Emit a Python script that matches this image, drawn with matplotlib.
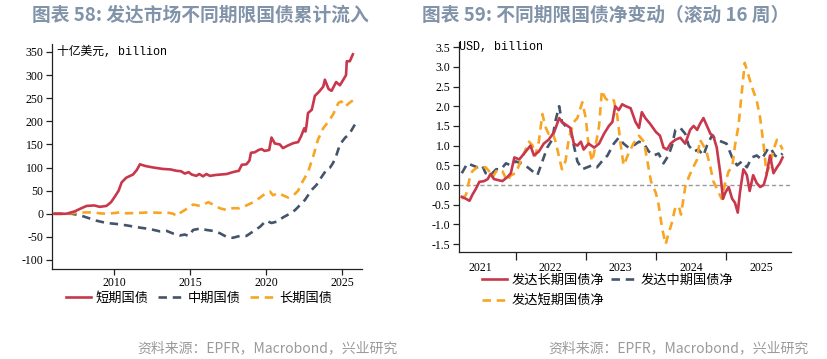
import matplotlib
matplotlib.use("Agg")
import matplotlib.pyplot as plt
from matplotlib.ticker import FixedLocator, NullFormatter, FixedFormatter
from matplotlib.lines import Line2D

CJK = ['Noto Sans CJK SC', 'DejaVu Sans']
SERIF = ['Liberation Serif', 'DejaVu Serif']
MONO = ['Liberation Mono', 'Noto Sans CJK SC']

RED = '#c8374b'
NAVY = '#44546a'
ORANGE = '#f7a523'
TITLE_C = '#8193a9'

# ---------------- Left chart data (cumulative, billion USD) ----------------
short_x = [2006.05, 2006.86, 2007.4, 2007.85, 2008.2, 2008.7, 2009.06, 2009.5, 2009.8, 2010.05,
           2010.3, 2010.5, 2010.8, 2011.25, 2011.5, 2011.7, 2012.1, 2012.6, 2013.2, 2013.7,
           2014.1, 2014.4, 2014.65, 2014.9, 2015.1, 2015.4, 2015.6, 2015.85, 2016.07, 2016.3,
           2016.7, 2017.4, 2017.8, 2018.2, 2018.4, 2018.7, 2018.9, 2019.0, 2019.25, 2019.5,
           2019.7, 2019.9, 2020.2, 2020.35, 2020.57, 2020.9, 2021.1, 2021.45, 2021.8, 2022.1,
           2022.3, 2022.5, 2022.58, 2022.65, 2022.75, 2023.0, 2023.2, 2023.5, 2023.75, 2023.86,
           2024.1, 2024.3, 2024.6, 2024.85, 2025.07, 2025.25, 2025.3, 2025.5, 2025.7]
short_v = [0, 0, 5, 12, 17, 18, 15, 17, 25, 37,
           50, 68, 78, 85, 95, 107, 103, 100, 97, 96,
           93, 92, 87, 90, 85, 82, 86, 81, 86, 82,
           84, 86, 90, 93, 106, 107, 115, 132, 133, 138,
           140, 136, 138, 165, 152, 150, 142, 148, 153, 155,
           168, 185, 178, 190, 218, 225, 255, 265, 275, 290,
           270, 266, 285, 278, 290, 300, 330, 330, 345]

mid_x = [2006.05, 2007.2, 2007.75, 2008.2, 2008.85, 2009.5, 2010.15, 2010.8, 2011.7, 2012.35,
         2013.0, 2013.45, 2013.9, 2014.3, 2014.65, 2014.9, 2015.2, 2015.65, 2016.07, 2016.5,
         2016.95, 2017.4, 2017.8, 2018.27, 2018.7, 2019.15, 2019.6, 2020.0, 2020.35, 2020.7,
         2021.1, 2021.55, 2021.9, 2022.2, 2022.55, 2023.0, 2023.3, 2023.65, 2024.0, 2024.2,
         2024.4, 2024.6, 2024.85, 2025.2, 2025.4, 2025.6, 2025.83]
mid_v = [0, 0, -3, -8, -15, -20, -22, -25, -30, -33,
         -38, -37, -43, -47, -45, -48, -35, -32, -35, -37,
         -42, -50, -52, -48, -48, -38, -28, -15, -20, -17,
         -8, 0, 8, 18, 30, 52, 62, 80, 97, 100,
         110, 125, 150, 165, 170, 180, 193]

long_x = [2006.05, 2006.86, 2007.5, 2008.2, 2008.6, 2009.05, 2009.5, 2010.15, 2010.5, 2010.8,
          2011.7, 2012.35, 2013.0, 2013.45, 2013.9, 2014.1, 2014.4, 2014.75, 2015.2, 2015.65,
          2016.2, 2016.5, 2016.95, 2017.4, 2017.8, 2018.25, 2018.7, 2019.15, 2019.6, 2020.0,
          2020.25, 2020.45, 2020.8, 2021.1, 2021.45, 2021.8, 2022.1, 2022.4, 2022.75, 2023.1,
          2023.4, 2023.75, 2024.1, 2024.4, 2024.75, 2024.95, 2025.2, 2025.4, 2025.6, 2025.83]
long_v = [0, 0, 2, 3, 3, 1, 0, 2, 4, 1,
          2, 3, 2, 3, 0, -5, 3, 10, 20, 17,
          25, 20, 12, 8, 12, 12, 18, 25, 35, 45,
          48, 40, 45, 40, 35, 40, 50, 70, 90, 125,
          160, 185, 200, 215, 240, 243, 232, 238, 243, 248]

left_yticks = [350, 300, 250, 200, 150, 100, 50, 0, -50, -100]
left_xticks = [2010, 2015, 2020, 2025]
left_labels = ['短期国债', '中期国债', '长期国债']

# ---------------- Right chart data (rolling 16w net change, billion USD) ----------------
r_long_x = [2021.23, 2021.29, 2021.34, 2021.38, 2021.43, 2021.48, 2021.55, 2021.6, 2021.64, 2021.69,
            2021.76, 2021.81, 2021.88, 2021.93, 2021.98, 2022.05, 2022.12, 2022.21, 2022.26, 2022.33,
            2022.4, 2022.47, 2022.55, 2022.62, 2022.66, 2022.74, 2022.78, 2022.83, 2022.88, 2022.93,
            2022.97, 2023.04, 2023.12, 2023.19, 2023.26, 2023.33, 2023.38, 2023.42, 2023.47, 2023.52,
            2023.57, 2023.64, 2023.71, 2023.76, 2023.8, 2023.85, 2023.92, 2024.0, 2024.06, 2024.11,
            2024.16, 2024.21, 2024.28, 2024.35, 2024.42, 2024.49, 2024.54, 2024.59, 2024.63, 2024.68,
            2024.73, 2024.78, 2024.82, 2024.87, 2024.92, 2024.96, 2024.99, 2025.04, 2025.09, 2025.13,
            2025.17, 2025.2, 2025.25, 2025.3, 2025.34, 2025.39, 2025.44, 2025.49, 2025.54, 2025.58,
            2025.63, 2025.68, 2025.73, 2025.77, 2025.81]
r_long_v = [-0.3, -0.35, -0.4, -0.25, -0.1, 0.08, 0.1, 0.15, 0.28, 0.15,
            0.12, 0.1, 0.2, 0.3, 0.7, 0.65, 0.8, 1.0, 0.75, 0.85,
            1.05, 1.15, 1.35, 1.7, 1.6, 1.5, 1.45, 1.05, 1.0, 1.1,
            0.9, 1.05, 0.95, 1.05, 1.3, 1.5, 1.6, 2.0, 1.9, 2.05,
            2.0, 1.95, 1.6, 1.45, 1.85, 1.7, 1.55, 1.35, 1.25, 0.95,
            0.9, 1.05, 1.15, 1.2, 1.05, 1.4, 1.5, 1.4, 1.55, 1.7,
            1.5, 1.3, 1.25, 0.95, 0.3, -0.35, -0.2, -0.05, -0.35, -0.45,
            -0.7, -0.2, 0.4, 0.25, -0.15, 0.25, 0.05, -0.05, 0.0, 0.25,
            0.75, 0.3, 0.45, 0.55, 0.7]

r_mid_x = [2021.23, 2021.31, 2021.38, 2021.45, 2021.52, 2021.57, 2021.64, 2021.72, 2021.79, 2021.86,
           2021.93, 2022.0, 2022.07, 2022.17, 2022.24, 2022.31, 2022.38, 2022.45, 2022.52, 2022.57,
           2022.62, 2022.66, 2022.71, 2022.78, 2022.83, 2022.88, 2022.95, 2023.02, 2023.09, 2023.16,
           2023.23, 2023.31, 2023.4, 2023.47, 2023.54, 2023.61, 2023.68, 2023.76, 2023.83, 2023.9,
           2023.97, 2024.04, 2024.11, 2024.18, 2024.23, 2024.28, 2024.35, 2024.42, 2024.47, 2024.54,
           2024.61, 2024.68, 2024.73, 2024.8, 2024.87, 2024.94, 2025.01, 2025.09, 2025.16, 2025.23,
           2025.3, 2025.37, 2025.44, 2025.51, 2025.56, 2025.61, 2025.65, 2025.7, 2025.75, 2025.81]
r_mid_v = [0.3, 0.55, 0.5, 0.45, 0.5, 0.3, 0.25, 0.4, 0.4, 0.55,
           0.5, 0.6, 0.55, 0.45, 0.35, 0.25, 0.6, 0.95, 1.15, 1.65,
           2.0, 1.6, 1.5, 1.4, 1.0, 0.6, 0.4, 0.45, 0.5, 0.45,
           0.6, 0.75, 1.05, 1.2, 1.05, 0.95, 1.0, 1.1, 1.05, 0.85,
           0.75, 0.8, 0.55, 0.75, 1.0, 1.4, 1.45, 1.3, 1.0, 0.85,
           0.9, 0.75, 1.0, 1.25, 1.15, 1.1, 1.05, 0.7, 0.5, 0.6,
           0.45, 0.7, 0.75, 0.65, 0.8, 0.95, 0.9, 0.75, 0.7, 0.8]

r_short_x = [2021.23, 2021.29, 2021.34, 2021.38, 2021.45, 2021.52, 2021.57, 2021.62, 2021.67, 2021.74,
             2021.81, 2021.88, 2021.93, 2022.0, 2022.07, 2022.14, 2022.19, 2022.24, 2022.28, 2022.33,
             2022.38, 2022.43, 2022.47, 2022.52, 2022.57, 2022.62, 2022.66, 2022.71, 2022.76, 2022.83,
             2022.88, 2022.95, 2023.0, 2023.04, 2023.09, 2023.14, 2023.19, 2023.23, 2023.28, 2023.35,
             2023.4, 2023.45, 2023.5, 2023.54, 2023.61, 2023.68, 2023.76, 2023.83, 2023.87, 2023.93,
             2024.0, 2024.04, 2024.09, 2024.14, 2024.18, 2024.23, 2024.28, 2024.33, 2024.36, 2024.42,
             2024.47, 2024.52, 2024.59, 2024.63, 2024.68, 2024.73, 2024.78, 2024.82, 2024.9, 2024.94,
             2024.99, 2025.04, 2025.09, 2025.13, 2025.18, 2025.23, 2025.27, 2025.32, 2025.37, 2025.44,
             2025.49, 2025.54, 2025.58, 2025.63, 2025.68, 2025.73, 2025.77, 2025.81]
r_short_v = [-0.35, -0.25, 0.15, 0.35, 0.45, 0.45, 0.45, 0.35, 0.2, 0.4,
             0.35, 0.1, 0.25, 0.3, 0.6, 0.9, 1.1, 1.0, 0.75, 1.1,
             1.8, 1.45, 1.3, 1.35, 1.1, 0.7, 0.4, 0.6, 1.2, 1.6,
             1.7, 2.1, 1.7, 1.0, 0.6, 1.0, 1.5, 2.4, 2.2, 2.1,
             2.15, 1.75, 1.0, 0.5, 0.8, 1.05, 1.25, 1.1, 0.7, 0.1,
             -0.2, -0.5, -1.1, -1.5, -1.25, -0.95, -0.55, -0.55, -0.75, -0.05,
             0.2, 0.4, 0.65, 1.15, 1.0, 0.8, 0.45, 0.1, -0.2, -0.35,
             0.05, 0.35, 0.45, 1.0, 1.5, 2.4, 3.1, 2.8, 2.5, 2.15,
             1.7, 1.0, 0.3, 0.5, 0.9, 1.15, 1.05, 0.9]

right_yticks = [3.5, 3.0, 2.5, 2.0, 1.5, 1.0, 0.5, 0.0, -0.5, -1.0, -1.5]
right_year_bounds = [2022, 2023, 2024, 2025]
right_year_labels = ['2021', '2022', '2023', '2024', '2025']
right_labels = ['发达长期国债净', '发达中期国债净', '发达短期国债净']

# ---------------- Figure ----------------
fig = plt.figure(figsize=(8.27, 3.59), dpi=100)
W, H = 827, 359

def ax_rect(x0, y0, x1, y1):
    return [x0 / W, 1 - y1 / H, (x1 - x0) / W, (y1 - y0) / H]

def fx(px):
    return px / W

def fy(py):
    return 1 - py / H

LW = 1.9
DASH = (0, (3.2, 2.2))

def style_axes(ax):
    for s in ['top', 'right']:
        ax.spines[s].set_visible(False)
    for s in ['left', 'bottom']:
        ax.spines[s].set_color('#222222')
        ax.spines[s].set_linewidth(0.9)
    ax.tick_params(axis='both', direction='out', length=4, width=0.9, color='#222222',
                   labelsize=8.5, pad=2)
    for lab in ax.get_xticklabels() + ax.get_yticklabels():
        lab.set_fontfamily(SERIF)

# Left chart
ax1 = fig.add_axes(ax_rect(52, 44, 362, 269))
ax1.plot(mid_x, mid_v, color=NAVY, lw=LW, ls=DASH, label=left_labels[1], zorder=2)
ax1.plot(long_x, long_v, color=ORANGE, lw=LW, ls=DASH, label=left_labels[2], zorder=2)
ax1.plot(short_x, short_v, color=RED, lw=LW, label=left_labels[0], zorder=3)
ax1.set_xlim(2005.92, 2026.3)
ax1.set_ylim(-119.5, 367.3)
ax1.set_yticks(left_yticks)
ax1.set_yticklabels([str(v) for v in left_yticks])
ax1.set_xticks(left_xticks)
ax1.set_xticklabels([str(v) for v in left_xticks])
style_axes(ax1)
fig.text(fx(57), fy(52), '十亿美元, billion', fontsize=8.5, family=MONO,
         va='center', ha='left')

h1 = [Line2D([], [], color=RED, lw=LW),
      Line2D([], [], color=NAVY, lw=LW, ls=DASH),
      Line2D([], [], color=ORANGE, lw=LW, ls=DASH)]
fig.legend(h1, left_labels, loc='center left', bbox_to_anchor=(fx(66), fy(298)),
           ncol=3, frameon=False, borderpad=0, borderaxespad=0, handlelength=1.9,
           handletextpad=0.35, columnspacing=0.7,
           prop={'family': CJK, 'size': 9.5})

# Right chart
ax2 = fig.add_axes(ax_rect(459, 42, 791, 252))
ax2.axhline(0, color='#999999', lw=1.0, ls=(0, (3, 2)), zorder=1)
ax2.plot(r_mid_x, r_mid_v, color=NAVY, lw=LW, ls=DASH, zorder=2)
ax2.plot(r_short_x, r_short_v, color=ORANGE, lw=LW, ls=DASH, zorder=2)
ax2.plot(r_long_x, r_long_v, color=RED, lw=LW, zorder=3)
ax2.set_xlim(2021.19, 2025.93)
ax2.set_ylim(-1.70, 3.63)
ax2.set_yticks(right_yticks)
ax2.set_yticklabels([f'{v:.1f}' for v in right_yticks])
ax2.xaxis.set_major_locator(FixedLocator(right_year_bounds))
ax2.xaxis.set_major_formatter(NullFormatter())
ax2.xaxis.set_minor_locator(FixedLocator([y + 0.5 for y in range(2021, 2026)]))
ax2.xaxis.set_minor_formatter(FixedFormatter(right_year_labels))
style_axes(ax2)
ax2.tick_params(axis='x', which='major', length=6)
ax2.tick_params(axis='x', which='minor', length=0, labelsize=8.5, pad=7)
for lab in ax2.xaxis.get_minorticklabels():
    lab.set_fontfamily(SERIF)
fig.text(fx(459), fy(47), 'USD, billion', fontsize=8.5, family=MONO,
         va='center', ha='left')

h2 = [Line2D([], [], color=RED, lw=LW),
      Line2D([], [], color=ORANGE, lw=LW, ls=DASH),
      Line2D([], [], color=NAVY, lw=LW, ls=DASH)]
l2 = [right_labels[0], right_labels[2], right_labels[1]]
fig.legend(h2, l2, loc='upper left', bbox_to_anchor=(fx(482), fy(274)),
           ncol=2, frameon=False, borderpad=0, borderaxespad=0, handlelength=1.9,
           handletextpad=0.35, columnspacing=0.5, labelspacing=0.55,
           prop={'family': CJK, 'size': 9.5})

# Titles
fig.text(fx(200), fy(15), '图表 58: 发达市场不同期限国债累计流入', ha='center', va='center',
         fontsize=13.5, fontweight='bold', color=TITLE_C, family=CJK)
fig.text(fx(606), fy(15), '图表 59: 不同期限国债净变动（滚动 16 周）', ha='center', va='center',
         fontsize=13.5, fontweight='bold', color=TITLE_C, family=CJK)

# Sources
fig.text(fx(398), fy(348), '资料来源：EPFR，Macrobond，兴业研究', ha='right', va='center',
         fontsize=10, color='#9a9a9a', family=CJK)
fig.text(fx(809), fy(348), '资料来源：EPFR，Macrobond，兴业研究', ha='right', va='center',
         fontsize=10, color='#9a9a9a', family=CJK)

fig.savefig('out.png', dpi=100)
